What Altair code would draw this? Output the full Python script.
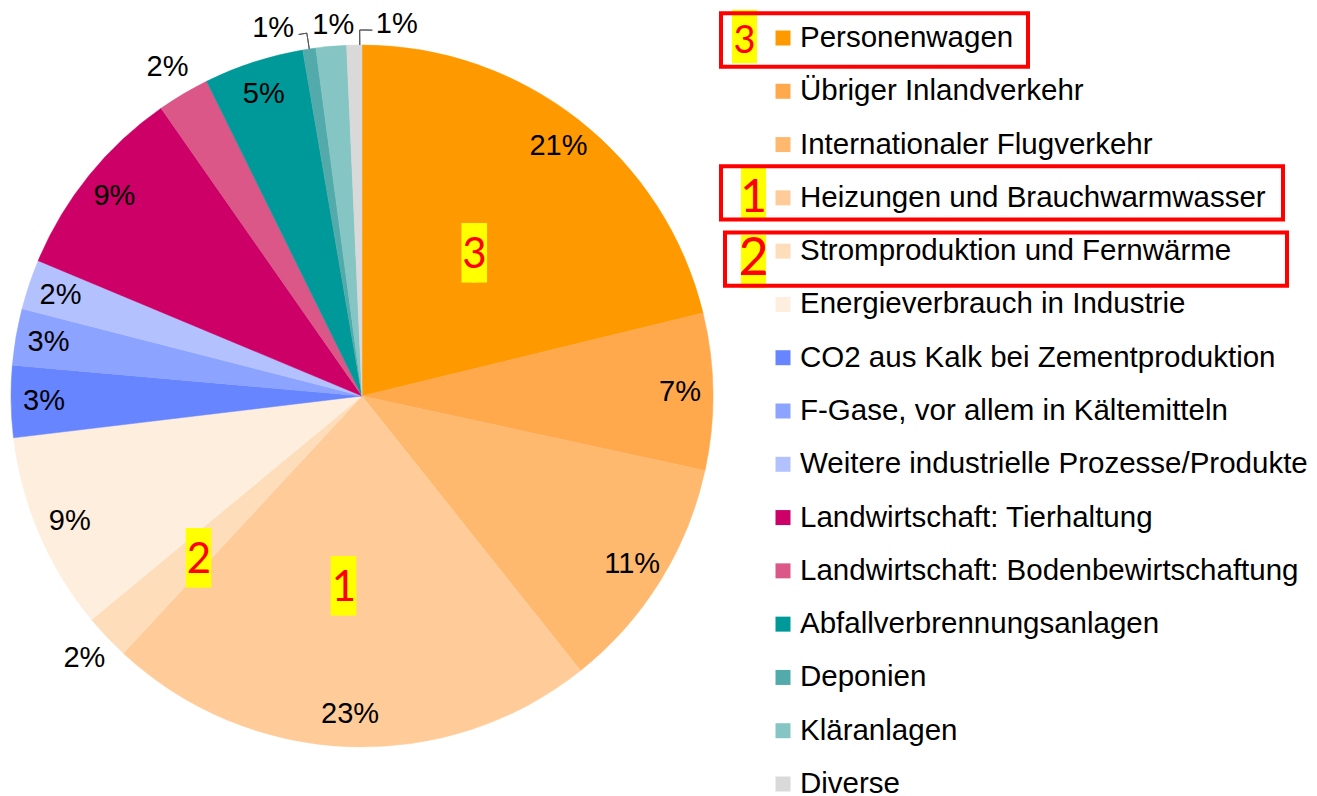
import math
import altair as alt
import pandas as pd

categories = [
    "Personenwagen", "Übriger Inlandverkehr", "Internationaler Flugverkehr",
    "Heizungen und Brauchwarmwasser", "Stromproduktion und Fernwärme",
    "Energieverbrauch in Industrie", "CO2 aus Kalk bei Zementproduktion",
    "F-Gase, vor allem in Kältemitteln", "Weitere industrielle Prozesse/Produkte",
    "Landwirtschaft: Tierhaltung", "Landwirtschaft: Bodenbewirtschaftung",
    "Abfallverbrennungsanlagen", "Deponien", "Kläranlagen", "Diverse",
]
shares = [21.2, 7.2, 10.9, 22.6, 2.1, 9.1, 3.3, 2.6, 2.3, 9.0, 2.4, 4.6, 0.6, 1.4, 0.7]
labels = ["21%", "7%", "11%", "23%", "2%", "9%", "3%", "3%", "2%", "9%", "2%", "5%", "1%", "1%", "1%"]
colors = [
    "#FF9900", "#FFA84C", "#FFB96E", "#FFCC99", "#FEDDBB", "#FEEEDD",
    "#6685FF", "#8CA3FF", "#B3C2FF", "#CC0066", "#DB5788", "#009999",
    "#52AAAA", "#85C5C3", "#D9D9D9",
]
outside_cats = ["Stromproduktion und Fernwärme", "Landwirtschaft: Bodenbewirtschaftung"]
top_cats = ["Deponien", "Kläranlagen", "Diverse"]
inside_cats = [c for c in categories if c not in outside_cats + top_cats]

df = pd.DataFrame({"cat": categories, "share": shares, "label": labels,
                   "idx": list(range(len(categories)))})
total = sum(shares)

FONT = "Liberation Sans"
DIGIT_FONT = "Lato"
CX, CY, R = 354, 388, 351

TH = alt.Scale(domain=[0, total], range=[0, 2 * math.pi])
COL = alt.Scale(domain=categories, range=colors)
YS = alt.Scale(type="band", domain=categories, range=[3.35, 802.65],
               paddingInner=0, paddingOuter=0)

base = (
    alt.Chart(df)
    .transform_window(cum="sum(share)", sort=[alt.SortField("idx")], frame=[None, 0])
    .transform_calculate(start="datum.cum - datum.share",
                         mid="datum.cum - datum.share / 2")
)

def only(cats):
    return alt.FieldOneOfPredicate(field="cat", oneOf=cats)

pie = base.mark_arc(radius=R, x=CX, y=CY, strokeWidth=0.5).encode(
    theta=alt.Theta("start:Q", scale=TH, stack=None),
    theta2="cum:Q",
    color=alt.Color("cat:N", scale=COL, legend=None),
    stroke=alt.Stroke("cat:N", scale=COL, legend=None),
)

def polar_text(cats, radius, **kw):
    props = dict(radius=radius, x=CX, y=CY, font=FONT, fontSize=29,
                 align="center", baseline="middle", color="#000000")
    props.update(kw)
    return base.transform_filter(only(cats)).mark_text(**props).encode(
        theta=alt.Theta("mid:Q", scale=TH, stack=None), text="label:N")

lab_in = polar_text(inside_cats, 318)
lab_out = polar_text(outside_cats, 382)
lab_dep = polar_text(["Deponien"], 372, dx=-33)
lab_kla = polar_text(["Kläranlagen"], 372, dx=4)
lab_div = polar_text(["Diverse"], 372, dx=43)

LEAD = dict(x=CX, y=CY, fill="transparent", stroke="#595959", strokeWidth=1)
lead_dep_r = base.transform_filter(only(["Deponien"])).mark_arc(
    radius=367, radius2=351, **LEAD).encode(
    theta=alt.Theta("mid:Q", scale=TH, stack=None), theta2="mid:Q")
lead_dep_h = base.transform_filter(only(["Deponien"])).transform_calculate(
    t0="datum.mid - 0.36").mark_arc(radius=367, radius2=367, **LEAD).encode(
    theta=alt.Theta("t0:Q", scale=TH, stack=None), theta2="mid:Q")
lead_div_r = base.transform_filter(only(["Diverse"])).transform_calculate(
    t0="datum.cum - 0.1").mark_arc(radius=366, radius2=351, **LEAD).encode(
    theta=alt.Theta("t0:Q", scale=TH, stack=None), theta2="t0:Q")
lead_div_h = base.transform_filter(only(["Diverse"])).transform_calculate(
    t0="datum.cum - 0.1", t1="datum.cum + 0.45").mark_arc(
    radius=366, radius2=366, **LEAD).encode(
    theta=alt.Theta("t0:Q", scale=TH, stack=None), theta2="t1:Q")

# numbered highlights inside the pie
marked_cats = ["Personenwagen", "Heizungen und Brauchwarmwasser", "Stromproduktion und Fernwärme"]
marked_nums = ["3", "1", "2"]

def pie_mark(cat, num, radius, dx=0, dy=0):
    sub = base.transform_filter(only([cat])).transform_calculate(num=f"'{num}'", blk="'▌'")
    enc = dict(theta=alt.Theta("mid:Q", scale=TH, stack=None))
    common = dict(radius=radius, x=CX, y=CY, align="center", baseline="middle")
    b1 = sub.mark_text(font="DejaVu Sans Mono", fontSize=50, color="#FFFF00",
                       dx=dx + 2.5, dy=dy + 2, **common).encode(text="blk:N", **enc)
    b2 = sub.mark_text(font="DejaVu Sans Mono", fontSize=50, color="#FFFF00",
                       dx=dx + 12.5, dy=dy + 2, **common).encode(text="blk:N", **enc)
    t = sub.mark_text(font=DIGIT_FONT, fontSize=42, color="#FF0000",
                      dx=dx, dy=dy + 2, **common).encode(text="num:N", **enc)
    return [b1, b2, t]

pie_marks = (pie_mark(marked_cats[0], marked_nums[0], 182)
             + pie_mark(marked_cats[1], marked_nums[1], 190, dx=-11)
             + pie_mark(marked_cats[2], marked_nums[2], 230, dx=4, dy=4))

# legend
leg = alt.Chart(df)
Y = alt.Y("cat:N", scale=YS, axis=None)
leg_sq = leg.mark_square(size=225, x=775, opacity=1).encode(
    y=Y, color=alt.Color("cat:N", scale=COL, legend=None))
leg_tx = leg.mark_text(x=792, align="left", baseline="middle", font=FONT,
                       fontSize=29.5, color="#000000").encode(y=Y, text="cat:N")

def leg_mark(cat, num, box, yel, yel_off, box_off, digit_size, digit_dy):
    sub = leg.transform_filter(only([cat])).transform_calculate(num=f"'{num}'")
    yr = sub.mark_rect(color="#FFFF00", yOffset=yel_off, y2Offset=yel_off).encode(
        y=Y, x=alt.value(yel[0]), x2=alt.value(yel[1]))
    bx = sub.mark_rect(fill="transparent", stroke="#FF0000", strokeWidth=4,
                       yOffset=box_off, y2Offset=box_off).encode(
        y=Y, x=alt.value(box[0]), x2=alt.value(box[1]))
    tx = sub.mark_text(font=DIGIT_FONT, fontSize=digit_size, color="#FF0000",
                       align="center", baseline="middle", dy=digit_dy,
                       x=(yel[0] + yel[1]) / 2).encode(y=Y, text="num:N")
    return [yr, bx, tx]

leg_marks = (leg_mark(marked_cats[0], marked_nums[0], (713, 1020), (724, 749), -1.5, 2, 38, 4)
             + leg_mark(marked_cats[1], marked_nums[1], (713, 1275), (733, 758), -4.5, -5, 46, 0)
             + leg_mark(marked_cats[2], marked_nums[2], (717, 1279), (733, 758), 10.5, 8, 52, 8))

chart = alt.layer(
    pie, lab_in, lab_out, lab_dep, lab_kla, lab_div,
    lead_dep_r, lead_dep_h, lead_div_r, lead_div_h,
    *pie_marks, leg_sq, leg_tx, *leg_marks,
).properties(
    width=1301, height=788, padding=0,
    autosize=alt.AutoSizeParams(type="none"),
).configure_view(stroke=None)

chart.save("out.html", embed_options={"renderer": "svg", "actions": False})
